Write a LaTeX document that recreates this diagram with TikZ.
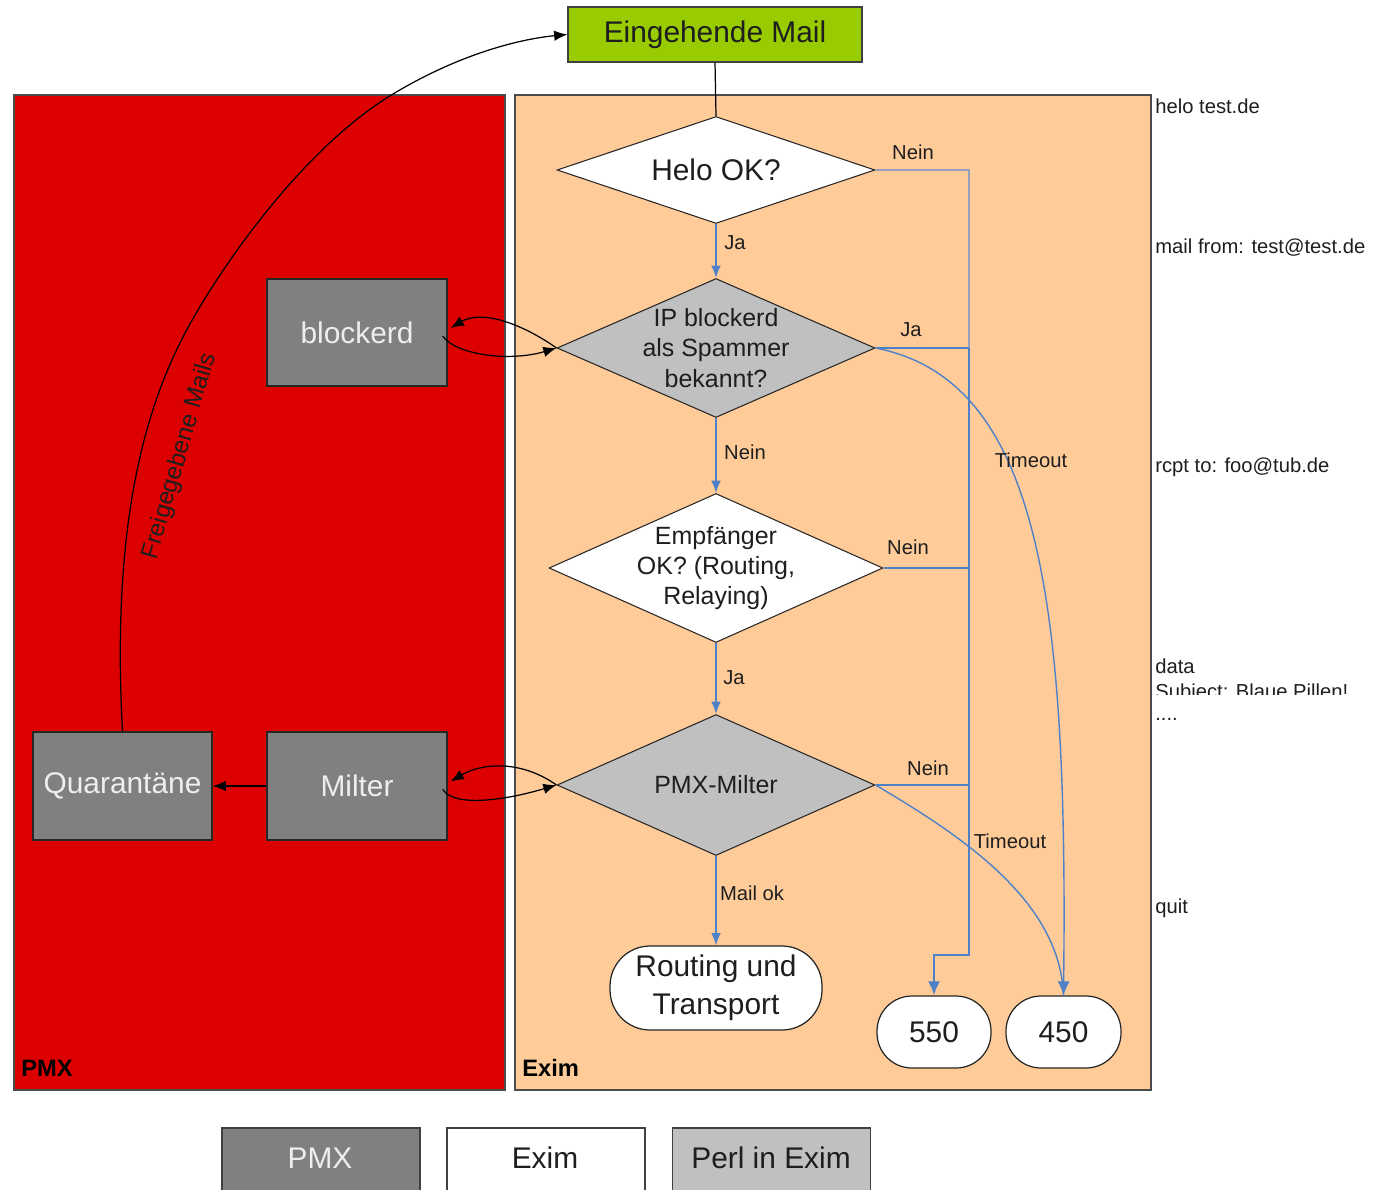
\documentclass[tikz,border=0pt]{standalone}
\usepackage{fontspec}
\setmainfont{Liberation Sans}
\usetikzlibrary{arrows.meta,shapes.geometric}
\definecolor{pmxred}{RGB}{221,0,0}
\definecolor{peach}{RGB}{255,204,153}
\definecolor{mailgreen}{RGB}{153,204,0}
\definecolor{dgray}{RGB}{128,128,128}
\definecolor{lgray}{RGB}{192,192,192}
\definecolor{flowblue}{RGB}{79,129,200}
\definecolor{grayblue}{RGB}{150,160,190}
\definecolor{txt}{RGB}{30,30,30}
\definecolor{boxtxt}{RGB}{238,238,238}
\begin{document}
\begin{tikzpicture}[x=0.02cm, y=-0.02cm,
  big/.style={font=\fontsize{17}{20.5}\selectfont},
  mid/.style={font=\fontsize{14.2}{17.3}\selectfont},
  sml/.style={font=\fontsize{11.5}{13.8}\selectfont},
  area/.style={draw=black!70, line width=0.8pt},
  areatitle/.style={font=\bfseries\fontsize{13.5}{16}\selectfont, text=black, anchor=west, inner sep=0pt},
  decision/.style={diamond, draw=black!85, line width=0.6pt, inner sep=0pt},
  dtext/.style={mid, align=center, text=txt},
  pmxbox/.style={rectangle, draw=black!85, line width=0.8pt, fill=dgray, text=boxtxt, big},
  endbox/.style={rectangle, draw=black!85, fill=white, line width=0.7pt, big, align=center, text=txt},
  flow/.style={draw=flowblue, line width=0.9pt, -{Latex[length=7pt,width=5.5pt]}},
  branch/.style={draw=flowblue, line width=0.9pt},
  graybranch/.style={draw=grayblue, line width=1.3pt},
  trunk/.style={draw=flowblue, line width=1.6pt},
  tcurve/.style={draw=flowblue, line width=0.8pt},
  elabel/.style={sml, text=txt, inner sep=0pt},
  blackarrow/.style={draw=black, line width=0.7pt, -{Latex[length=7.5pt,width=6pt]}},
  sidetext/.style={sml, text=txt, anchor=west, inner sep=0pt},
  legend/.style={rectangle, draw=black!75, line width=0.8pt, minimum width=3.96cm, minimum height=1.6cm, big}
]
\useasboundingbox (0,0) rectangle (1378,1189);
\fill[white] (0,0) rectangle (1378,1189);

% swimlanes
\draw[area, fill=pmxred] (14,95) rectangle (505,1090);
\draw[area, fill=peach] (515,95) rectangle (1151,1090);
\node[areatitle] (pmxtitle) at (21,1068) {PMX};
\node[areatitle] (eximtitle) at (522,1068) {Exim};

% main nodes
\node[rectangle, draw=black!75, line width=0.8pt, fill=mailgreen, big, text=txt,
      minimum width=5.88cm, minimum height=1.1cm] (mail) at (715,34.5) {Eingehende Mail};
\node[decision, fill=white, minimum width=6.36cm, minimum height=2.14cm,
      label={[big, text=txt]center:Helo OK?}] (helo) at (716,170) {};
\node[decision, fill=lgray, minimum width=6.36cm, minimum height=2.78cm,
      label={[dtext]center:{IP blockerd\\als Spammer\\bekannt?}}] (ip) at (716,348) {};
\node[decision, fill=white, minimum width=6.68cm, minimum height=2.98cm,
      label={[dtext]center:{Empfänger\\OK? (Routing,\\Relaying)}}] (empf) at (716,568) {};
\node[decision, fill=lgray, minimum width=6.36cm, minimum height=2.82cm,
      label={[dtext]center:PMX-Milter}] (milt) at (716,785) {};
\node[endbox, rounded corners=0.8cm, minimum width=4.24cm, minimum height=1.68cm] (rout) at (716,988) {Routing und\\[0.05cm]Transport};
\node[endbox, rounded corners=0.7cm, minimum width=2.28cm, minimum height=1.44cm] (n550) at (934,1032) {550};
\node[endbox, rounded corners=0.7cm, minimum width=2.30cm, minimum height=1.44cm] (n450) at (1063.5,1032) {450};

\node[pmxbox, minimum width=3.6cm, minimum height=2.14cm] (blk) at (357,332.5) {blockerd};
\node[pmxbox, minimum width=3.6cm, minimum height=2.16cm] (milter) at (357,786) {Milter};
\node[pmxbox, minimum width=3.58cm, minimum height=2.16cm] (quar) at (122.5,786) {Quarantäne};

% main flow
\draw[draw=black, line width=0.7pt] (mail.south) -- (helo.north);
\draw[flow] (helo.south) -- (ip.north);
\draw[flow] (ip.south) -- (empf.north);
\draw[flow] (empf.south) -- (milt.north);
\draw[flow] (milt.south) -- (rout.north);
\node[elabel] (lja1) at (735,243) {Ja};
\node[elabel] (lnein1) at (745,452) {Nein};
\node[elabel] (lja2) at (734,678) {Ja};
\node[elabel] (lok) at (752,893) {Mail ok};

% rejections
\coordinate (t1) at (969,170);
\coordinate (t2) at (969,348);
\coordinate (t3) at (969,568);
\coordinate (t4) at (969,785);
\coordinate (t5) at (969,955);
\coordinate (t6) at (934,955);
\draw[graybranch] (helo.east) -- (t1) -- (t2);
\draw[branch] (ip.east) -- (t2);
\draw[branch] (empf.east) -- (t3);
\draw[branch] (milt.east) -- (t4);
\draw[trunk, -{Latex[length=8pt,width=7pt]}] (t2) -- (t5) -- (t6) -- (n550.north);
\node[elabel] (lnein2) at (913,152) {Nein};
\node[elabel] (lja3) at (911,330) {Ja};
\node[elabel] (lnein3) at (908,547) {Nein};
\node[elabel] (lnein4) at (928,768) {Nein};

% timeouts
\draw[tcurve, -{Latex[length=8pt,width=7pt]}] (ip.east) .. controls (1040,380) and (1068,600) .. (n450.north);
\draw[tcurve] (milt.east) .. controls (960,835) and (1060,900) .. (n450.north);
\node[elabel] (lto1) at (1031,460) {Timeout};
\node[elabel] (lto2) at (1010,841) {Timeout};

% PMX interactions
\draw[blackarrow] ([shift={(-5,3.5)}]blk.east) .. controls +(13,19) and +(-47,14) .. (ip.west);
\draw[blackarrow] (ip.west) .. controls +(-37,-26) and +(30,-18) .. ([shift={(3,-4.5)}]blk.east);
\draw[blackarrow] ([shift={(-5,3.5)}]milter.east) .. controls +(13,19) and +(-47,14) .. (milt.west);
\draw[blackarrow] (milt.west) .. controls +(-37,-26) and +(30,-18) .. ([shift={(3,-4.5)}]milter.east);
\draw[blackarrow] (milter.west) -- (quar.east);

% released mails
\draw[blackarrow] (quar.north) .. controls (112,540) and (140,420) .. (183,337)
  .. controls (215,275) and (300,150) .. (393,94)
  .. controls (468,49) and (530,38) .. (mail.west);
\node[text=txt, rotate=74, font=\fontsize{13.8}{16}\selectfont, inner sep=0pt] (rel) at (180,456) {Freigegebene Mails};

% SMTP dialogue
\node[sidetext] (s1) at (1155,106) {helo test.de};
\node[sidetext] (s2) at (1155,248) {mail from: test@test.de};
\node[sidetext] (s3) at (1155,467) {rcpt to: foo@tub.de};
\node[sidetext, anchor=base west] (s4) at (1155,673) {data};
\begin{scope}
  \clip (1140,670) rectangle (1378,694);
  \node[sidetext, anchor=base west] (s5) at (1155,698) {Subject: Blaue Pillen!};
\end{scope}
\node[sidetext, anchor=base west] (s6) at (1155,720) {....};
\node[sidetext] (s7) at (1155,908) {quit};

% legend
\begin{scope}
  \clip (0,1100) rectangle (1378,1189);
  \node[legend, fill=dgray, text=boxtxt] (lg1) at (321,1168) {};
  \node[legend, fill=white] (lg2) at (546,1168) {};
  \node[legend, fill=lgray] (lg3) at (771.5,1168) {};
\end{scope}
\node[big, text=boxtxt] (lt1) at (320,1158) {PMX};
\node[big, text=txt] (lt2) at (545,1158) {Exim};
\node[big, text=txt] (lt3) at (771,1158) {Perl in Exim};
\end{tikzpicture}
\end{document}
